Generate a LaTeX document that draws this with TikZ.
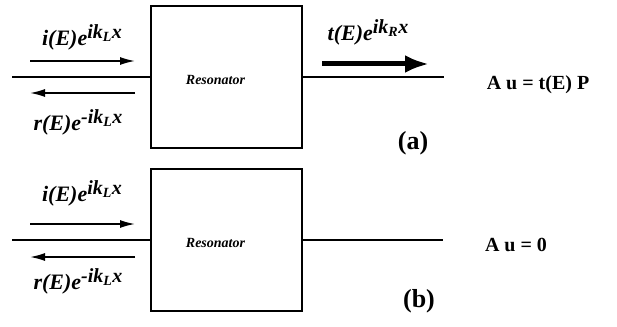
\documentclass[tikz,border=0pt]{standalone}
\usepackage{fontspec}
\setmainfont{Liberation Serif}
\usetikzlibrary{positioning,arrows.meta}

% amplitude label: #1 coefficient, #2 sign, #3 side
\newcommand{\amp}[3]{#1(E)e\raisebox{7pt}{\fontsize{20}{22}\selectfont#2ik\textsubscript{#3}x}}

\begin{document}
\begin{tikzpicture}[x=1pt,y=-1pt,
	  box/.style = {draw, line width=2.6pt, minimum width=151pt, minimum height=142pt, inner sep=0pt},
	  res/.style = {font=\fontsize{14}{16}\selectfont\bfseries\itshape, inner sep=0pt},
	  wire/.style = {line width=1.4pt},
	  wave/.style = {line width=1.6pt, -{Latex[length=15pt,width=8pt]}},
	  bigwave/.style = {line width=5pt, -{Latex[length=24pt,width=18pt]}},
	  lbl/.style = {font=\fontsize{22}{24}\selectfont\bfseries\itshape, inner sep=1pt},
	  eqn/.style = {font=\fontsize{20}{22}\selectfont\bfseries},
	  tag/.style = {font=\fontsize{26}{28}\selectfont\bfseries}
	]
	  \useasboundingbox (0,0) rectangle (617,326);

	  % (a) transmission
	  \node[box] (resA) at (226.5,77) {};
	  \node[res] (resAl) at ([xshift=-11pt,yshift=-3pt]resA.center) {Resonator};
	  \coordinate (inA) at (12,77);
	  \coordinate (outA) at (444,77);
	  \draw[wire] (inA) -- (resA.west);
	  \draw[wire] (resA.east) -- (outA);
	  \coordinate (incA1) at (30,61);
	  \coordinate (incA2) at (135,61);
	  \coordinate (refA1) at (135,93);
	  \coordinate (refA2) at (30,93);
	  \coordinate (traA1) at (322,64);
	  \coordinate (traA2) at (429,64);
	  \draw[wave] (incA1) -- (incA2);
	  \draw[wave] (refA1) -- (refA2);
	  \draw[bigwave] (traA1) -- (traA2);
	  \node[lbl] (incAl) at (82,37) {\amp{i}{}{L}};
	  \node[lbl] (refAl) at (78,122) {\amp{r}{-}{L}};
	  \node[lbl] (traAl) at (368,32) {\amp{t}{}{R}};
	  \node[eqn] (eqA) at (538,85) {A u = t(E) P};
	  \node[tag] (tagA) at (413,143) {(a)};

	  % (b) no transmission
	  \node[box] (resB) at (226.5,240) {};
	  \node[res] (resBl) at ([xshift=-11pt,yshift=-3pt]resB.center) {Resonator};
	  \coordinate (inB) at (12,240);
	  \coordinate (outB) at (443,240);
	  \draw[wire] (inB) -- (resB.west);
	  \draw[wire] (resB.east) -- (outB);
	  \coordinate (incB1) at (30,224);
	  \coordinate (incB2) at (135,224);
	  \coordinate (refB1) at (135,257);
	  \coordinate (refB2) at (30,257);
	  \draw[wave] (incB1) -- (incB2);
	  \draw[wave] (refB1) -- (refB2);
	  \node[lbl] (incBl) at (82,193) {\amp{i}{}{L}};
	  \node[lbl] (refBl) at (78,281) {\amp{r}{-}{L}};
	  \node[eqn] (eqB) at (516,245) {A u = 0};
	  \node[tag] (tagB) at (419,301) {(b)};
	\end{tikzpicture}
\end{document}
